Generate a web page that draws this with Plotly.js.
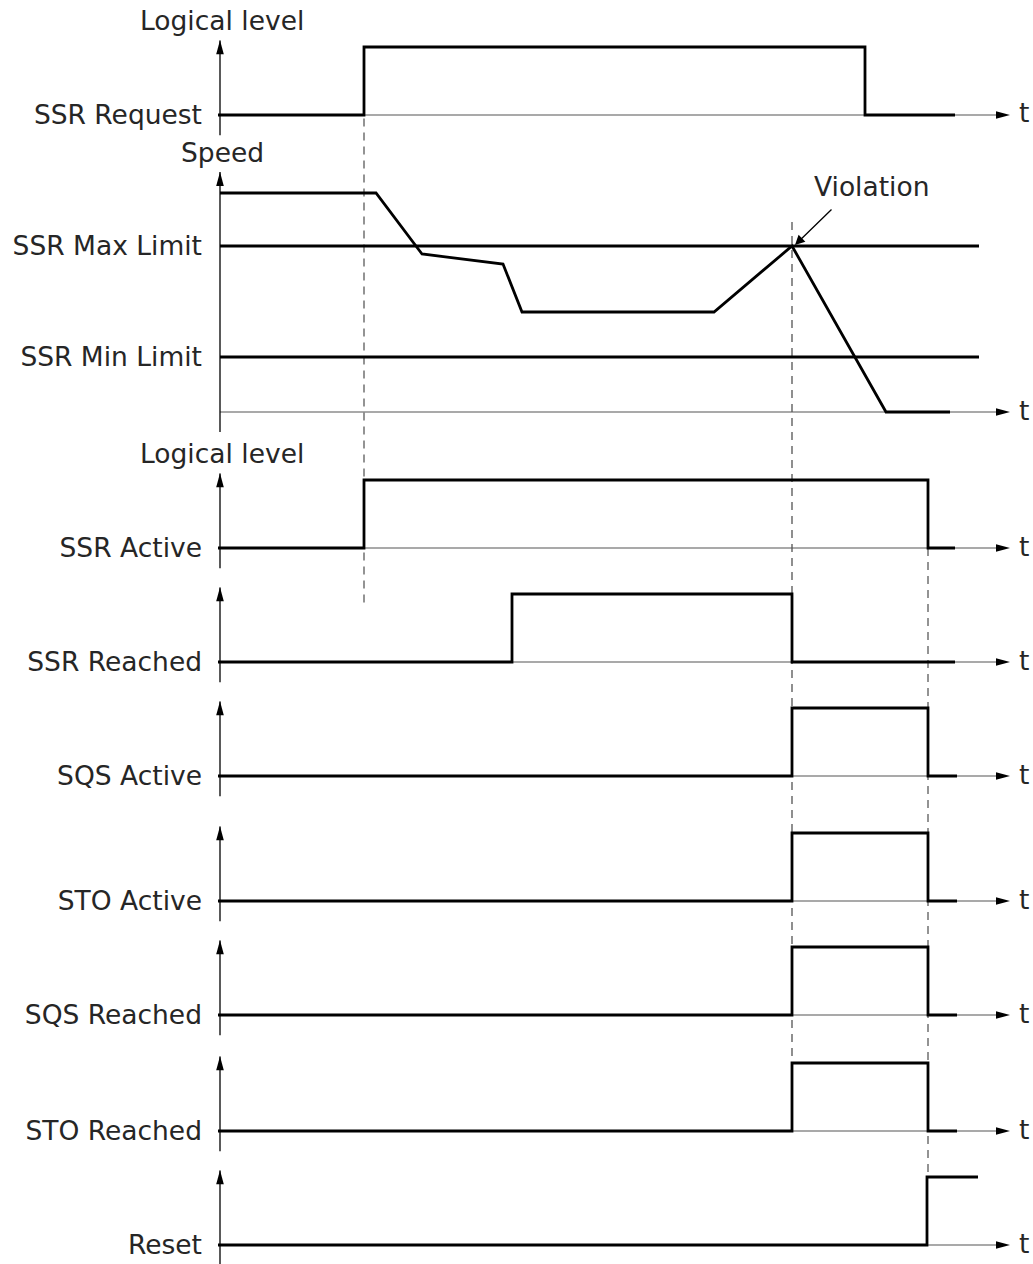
<!DOCTYPE html>
<html>
<head>
<meta charset="utf-8">
<script src="https://cdn.plot.ly/plotly-3.0.1.min.js"></script>
<style>html,body{margin:0;padding:0;background:#fff}#chart{width:1033px;height:1264px}</style>
</head>
<body>
<div id="chart"></div>
<script>
// ---------------- data (time in arbitrary units, levels 0 = low, 1 = high) ----------------
const panelLabels = ['SSR Request', 'Speed', 'SSR Active', 'SSR Reached', 'SQS Active', 'STO Active', 'SQS Reached', 'STO Reached', 'Reset'];

const ssrRequestT = [-2, 144, 645, 735];
const ssrRequestV = [0, 1, 0, 0];

const speedT = [0, 156, 202, 283, 302, 494, 572, 666, 730];
const speedV = [219, 219, 158, 148, 100, 100, 166, 0, 0];
const limitT = [0, 759];
const ssrMaxLimit = 166;
const ssrMinLimit = 55;
const speedTickLabels = ['SSR Max Limit', 'SSR Min Limit'];

const ssrActiveT = [-2, 144, 708, 735];
const ssrActiveV = [0, 1, 0, 0];
const ssrReachedT = [-2, 292, 572, 735];
const ssrReachedV = [0, 1, 0, 0];
const sqsActiveT = [-2, 572, 708, 737];
const sqsActiveV = [0, 1, 0, 0];
const stoActiveT = [-2, 572, 708, 737];
const stoActiveV = [0, 1, 0, 0];
const sqsReachedT = [-2, 572, 708, 737];
const sqsReachedV = [0, 1, 0, 0];
const stoReachedT = [-2, 572, 708, 737];
const stoReachedV = [0, 1, 0, 0];
const resetT = [-2, 707, 758];
const resetV = [0, 1, 1];

const violationT = 572;           // time of the limit violation
const syncTimes = [144, 572, 708]; // dashed guide lines
const axisEndT = 790;              // end of each time axis (arrow tip)

// ---------------- layout geometry (pixels) ----------------
const W = 1033, H = 1264;
const axisPx = 220;
const baselinePx = [115, 412, 548, 662, 776, 901, 1015, 1131, 1245];
const isSpeed = [false, true, false, false, false, false, false, false, false];
const logicScale = 68;   // px per logic unit
const speedScale = 1;    // px per speed unit

const FONT = 'DejaVu Sans';
const FS = 26.5;
const TXT = '#262626';

function panelInfo(i) {
  const B = baselinePx[i];
  let scale, lo, hi;
  if (isSpeed[i]) { scale = speedScale; lo = -20; hi = 240; }
  else { scale = logicScale; lo = -Math.min(0.3, (H - B) / logicScale); hi = 1.1; }
  const bottomPx = B - lo * scale;
  const topPx = B - hi * scale;
  return { B, scale, range: [lo, hi], domain: [1 - bottomPx / H, 1 - topPx / H] };
}
const panels = baselinePx.map((_, i) => panelInfo(i));
const yName = i => (i === 0 ? 'y' : 'y' + (i + 1));
const yKey = i => (i === 0 ? 'yaxis' : 'yaxis' + (i + 1));
function paperY(i, v) { const p = panels[i]; return 1 - (p.B - v * p.scale) / H; }

// ---------------- traces ----------------
const lineStyle = { color: '#000', width: 2.8 };
function stepTrace(t, v, i) {
  return { x: t, y: v, xaxis: 'x', yaxis: yName(i), mode: 'lines', line: Object.assign({ shape: 'hv' }, lineStyle), hoverinfo: 'skip', showlegend: false, cliponaxis: false };
}
function linTrace(t, v, i) {
  return { x: t, y: v, xaxis: 'x', yaxis: yName(i), mode: 'lines', line: Object.assign({ shape: 'linear' }, lineStyle), hoverinfo: 'skip', showlegend: false, cliponaxis: false };
}
const traces = [
  stepTrace(ssrRequestT, ssrRequestV, 0),
  linTrace(limitT, limitT.map(() => ssrMaxLimit), 1),
  linTrace(limitT, limitT.map(() => ssrMinLimit), 1),
  linTrace(speedT, speedV, 1),
  stepTrace(ssrActiveT, ssrActiveV, 2),
  stepTrace(ssrReachedT, ssrReachedV, 3),
  stepTrace(sqsActiveT, sqsActiveV, 4),
  stepTrace(stoActiveT, stoActiveV, 5),
  stepTrace(sqsReachedT, sqsReachedV, 6),
  stepTrace(stoReachedT, stoReachedV, 7),
  stepTrace(resetT, resetV, 8)
];

// ---------------- layout ----------------
const layout = {
  width: W, height: H,
  margin: { l: 0, r: 0, t: 0, b: 0, pad: 0 },
  paper_bgcolor: '#fff', plot_bgcolor: 'rgba(0,0,0,0)',
  showlegend: false,
  font: { family: FONT, size: FS, color: TXT },
  xaxis: { range: [-axisPx, W - axisPx], domain: [0, 1], visible: false, fixedrange: true, anchor: 'y' },
  shapes: [],
  annotations: []
};

panels.forEach((p, i) => {
  const ax = {
    domain: p.domain, range: p.range, anchor: 'free', position: axisPx / W,
    showline: false, showgrid: false, zeroline: false, ticks: '', fixedrange: true,
    ticklabelstandoff: 18,
    tickfont: { family: FONT, size: FS, color: TXT }
  };
  if (isSpeed[i]) { ax.tickvals = [ssrMaxLimit, ssrMinLimit]; ax.ticktext = speedTickLabels; }
  else { ax.tickvals = [0]; ax.ticktext = [panelLabels[i]]; }
  layout[yKey(i)] = ax;

  const yr = yName(i);
  // time baseline (thin)
  layout.shapes.push({ type: 'line', xref: 'x', yref: yr, x0: 0, x1: axisEndT - 6, y0: 0, y1: 0, line: { color: '#555', width: 1.2 }, layer: 'below' });
  // time arrow head
  layout.shapes.push({ type: 'path', xref: 'x', yref: yr, xsizemode: 'pixel', ysizemode: 'pixel', xanchor: axisEndT, yanchor: 0,
    path: 'M0,0 L-14,3.8 L-14,-3.8 Z', fillcolor: '#000', line: { width: 0 } });
  // vertical axis
  layout.shapes.push({ type: 'line', xref: 'x', yref: yr, x0: 0, x1: 0, y0: p.range[0], y1: p.range[1], line: { color: '#000', width: 1.3 }, layer: 'below' });
  layout.shapes.push({ type: 'path', xref: 'x', yref: yr, xsizemode: 'pixel', ysizemode: 'pixel', xanchor: 0, yanchor: p.range[1],
    path: 'M0,0 L-3.8,-14 L3.8,-14 Z', fillcolor: '#000', line: { width: 0 } });
  // "t" label
  layout.annotations.push({ xref: 'x', yref: yr, x: axisEndT + 7, y: 0, xanchor: 'left', yanchor: 'middle', yshift: 2,
    text: 't', showarrow: false, font: { family: FONT, size: FS, color: TXT } });
});

// axis titles above panels
[[0, 'Logical level'], [1, 'Speed'], [2, 'Logical level']].forEach(([i, txt]) => {
  layout.annotations.push({ xref: 'x', yref: 'paper', x: 2, y: panels[i].domain[1], xanchor: 'center', yanchor: 'bottom', yshift: 2,
    text: txt, showarrow: false, font: { family: FONT, size: FS, color: TXT } });
});

// violation marker
layout.annotations.push({ xref: 'x', yref: yName(1), x: violationT + 3, y: ssrMaxLimit + 1, ax: 38, ay: -37, axref: 'pixel', ayref: 'pixel',
  text: '', showarrow: true, arrowhead: 2, arrowsize: 1.5, arrowwidth: 1.3, arrowcolor: '#000', standoff: 0 });
layout.annotations.push({ xref: 'x', yref: yName(1), x: violationT + 80, y: ssrMaxLimit + 60, xanchor: 'center', yanchor: 'middle',
  text: 'Violation', showarrow: false, font: { family: FONT, size: FS, color: TXT } });

// dashed guide lines: [time, fromPanel, fromValue, toPanel, toValue]
const guides = [
  [syncTimes[0], 0, -0.05, 3, 0.87],
  [syncTimes[1], 1, 190, 7, 0],
  [syncTimes[2], 2, 0, 8, 1]
];
guides.forEach(([t, pa, va, pb, vb], k) => {
  layout.shapes.push({ type: 'line', xref: 'x', yref: 'paper', x0: t, x1: t, y0: paperY(pa, va), y1: paperY(pb, vb),
    line: { color: k === 1 ? '#333' : '#666', width: k === 1 ? 1.1 : 1.4, dash: '8px,6px' }, layer: 'below' });
});

Plotly.newPlot('chart', traces, layout, { displayModeBar: false, staticPlot: true });
</script>
</body>
</html>
